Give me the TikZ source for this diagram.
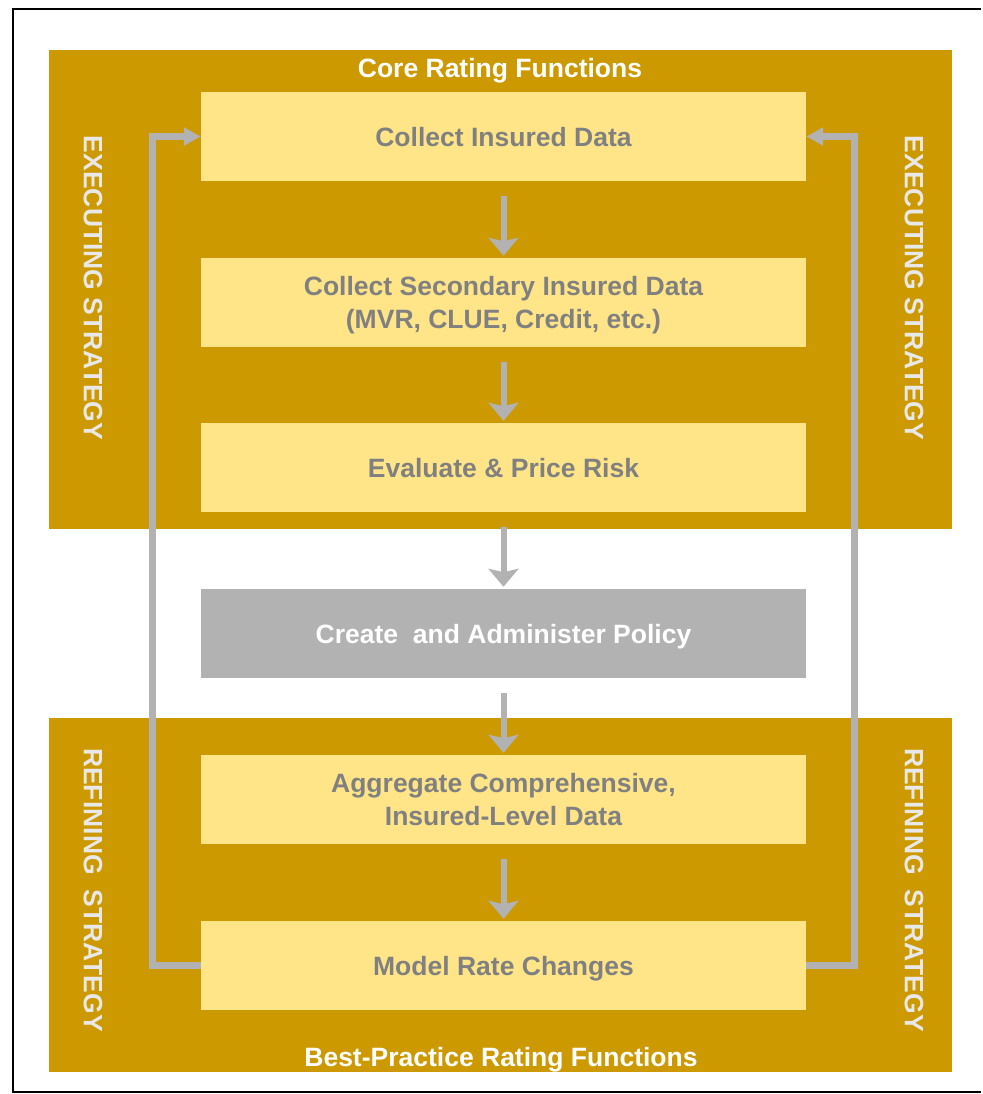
\documentclass[tikz,border=0pt]{standalone}
\usepackage{fontspec}
\setmainfont{Liberation Sans}
\usetikzlibrary{arrows.meta}
\definecolor{gold}{HTML}{CC9900}
\definecolor{paleyellow}{HTML}{FFE588}
\definecolor{boxgray}{HTML}{B2B2B2}
\definecolor{textgray}{HTML}{808080}
\definecolor{sidegray}{HTML}{E8E8E8}
\newcommand{\chartfont}{\fontsize{18.85}{23.5}\selectfont\bfseries}
\tikzset{
  stepbox/.style={fill=paleyellow, text=textgray, minimum width=15.125cm,
    minimum height=2.225cm, inner sep=0pt, align=center, text depth=0pt, font=\chartfont},
  policybox/.style={stepbox, fill=boxgray, text=white},
  sidelabel/.style={rotate=-90, text=sidegray, font=\chartfont},
  panellabel/.style={text=white, text depth=0pt, font=\chartfont},
  flowarrow/.style={draw=boxgray, line width=4.27pt, shorten <=10.7pt, shorten >=1.4pt,
    -{Stealth[length=12.8pt, width=21.3pt, inset=2.5pt]}},
  loopline/.style={draw=boxgray, line width=4.5pt,
    -{Triangle[length=12pt, width=12.3pt]}}
}
\begin{document}
\begin{tikzpicture}[x=0.025cm, y=-0.025cm]
                \fill[white] (0, 0) rectangle (981, 1094);
                \draw[line width=2.1pt] (981, 9) -- (13, 9) -- (13, 1092) -- (981, 1092);
                % panels
                \fill[gold] (49, 50) rectangle (952, 529);
                \fill[gold] (49, 718) rectangle (952, 1072);
                \node[panellabel] (core) at (500, 68) {Core Rating Functions};
                \node[panellabel] (best) at (501, 1057) {Best-Practice Rating Functions};
                \node[sidelabel] (execL) at (93, 288) {EXECUTING STRATEGY};
                \node[sidelabel] (execR) at (914, 288) {EXECUTING STRATEGY};
                \node[sidelabel] (refL) at (93, 890) {REFINING~~STRATEGY};
                \node[sidelabel] (refR) at (914, 890) {REFINING~~STRATEGY};
                % steps
                \node[stepbox] (collect) at (503.5, 136.5) {Collect Insured Data};
                \node[stepbox] (secondary) at (503.5, 302.5) {Collect Secondary Insured Data\\(MVR, CLUE, Credit, etc.)};
                \node[stepbox] (evaluate) at (503.5, 467.5) {Evaluate \& Price Risk};
                \node[policybox] (policy) at (503.5, 633.5) {Create~~and Administer Policy};
                \node[stepbox] (aggregate) at (503.5, 799.5) {Aggregate Comprehensive,\\Insured-Level Data};
                \node[stepbox] (model) at (503.5, 965.5) {Model Rate Changes};
                % arrows
                \draw[flowarrow] (collect.south) -- (secondary.north);
                \draw[flowarrow] (secondary.south) -- (evaluate.north);
                \draw[flowarrow] (evaluate.south) -- (policy.north);
                \draw[flowarrow] (policy.south) -- (aggregate.north);
                \draw[flowarrow] (aggregate.south) -- (model.north);
                \draw[loopline] (model.west) -- ++(-48, 0) |- (collect.west);
                \draw[loopline] (model.east) -- ++(48, 0) |- (collect.east);
                \useasboundingbox (0, 0) rectangle (981, 1094);
\end{tikzpicture}
\end{document}
